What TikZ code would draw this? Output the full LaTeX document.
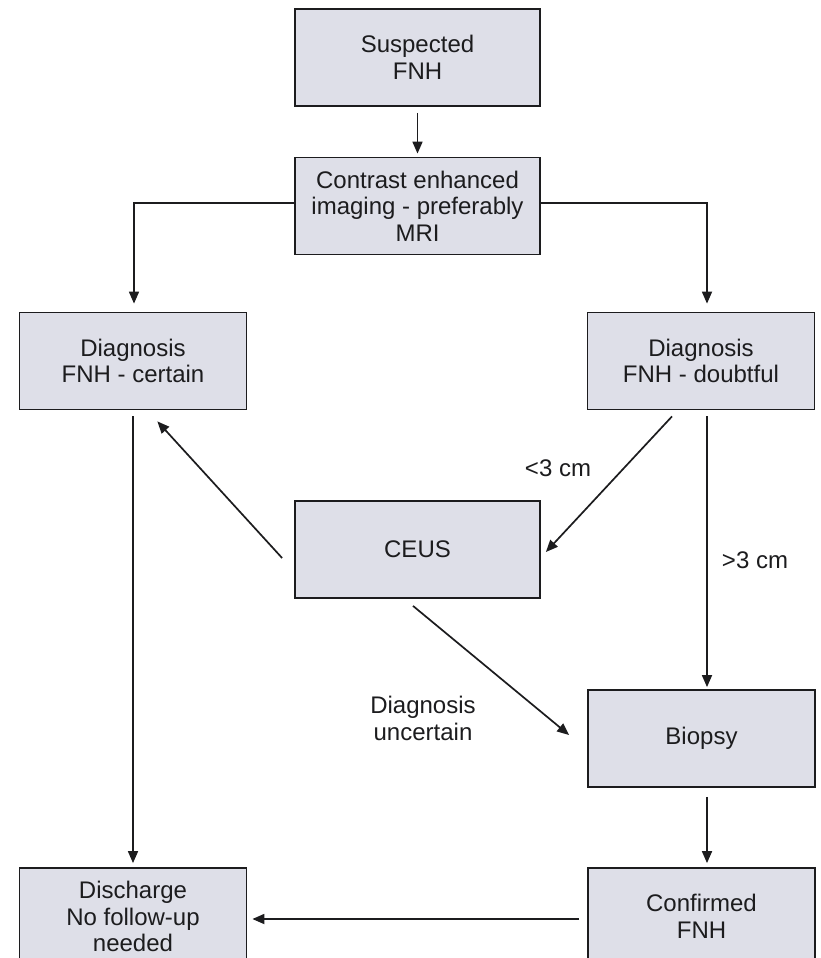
\documentclass[tikz,border=0pt]{standalone}
\usepackage{fontspec}
\setmainfont{Liberation Sans}
\usetikzlibrary{arrows.meta,calc}
\definecolor{boxfill}{RGB}{222,223,232}
\definecolor{ink}{RGB}{28,28,30}
\begin{document}
\begin{tikzpicture}[x=1pt,y=1pt,
  box/.style={draw=ink, line width=1.8pt, fill=boxfill, rectangle, minimum height=97pt,
    align=center, inner sep=0pt, font=\fontsize{24}{26.5}\selectfont, text=ink},
  wide/.style={box, minimum width=245pt},
  side/.style={box, minimum width=227pt},
  conn/.style={draw=ink, line width=1.7pt, -{Triangle[length=12pt,width=10pt]}},
  lbl/.style={font=\fontsize{24}{27}\selectfont, text=ink, align=center}]
\useasboundingbox (0,0) rectangle (820,-958);
\clip (0,0) rectangle (820,-958);
\fill[white] (0,0) rectangle (820,-958);

\node[wide] (S) at (417.5,-57.5) {Suspected\\FNH};
\node[wide] (C) at (417.5,-206) {Contrast enhanced\\imaging - preferably\\MRI};
\node[side] (DC) at (133,-361) {Diagnosis\\FNH - certain};
\node[side] (DD) at (701,-361) {Diagnosis\\FNH - doubtful};
\node[wide] (CE) at (417.5,-549.5) {CEUS};
\node[side] (B) at (701.5,-738.5) {Biopsy};
\node[side] (DIS) at (133,-916.5) {Discharge\\No follow-up\\needed};
\node[side] (CF) at (701.5,-916.5) {Confirmed\\FNH};

% connectors
\draw[conn] ([yshift=-6pt]S.south) -- ([yshift=3pt]C.north);
\draw[conn] ([yshift=3pt]C.west) -| ([xshift=1pt,yshift=8pt]DC.north);
\draw[conn] ([yshift=3pt]C.east) -| ([xshift=6pt,yshift=8pt]DD.north);
\draw[conn] ($(DD.south)+(-29pt,-6pt)$) -- ($(CE.east)+(5pt,-2.5pt)$);
\draw[conn] ([xshift=6pt,yshift=-6pt]DD.south) -- ([xshift=5.5pt,yshift=2pt]B.north);
\draw[conn] ($(CE.west)+(-12pt,-8.5pt)$) -- ($(DC.south east)+(-90pt,-11pt)$);
\draw[conn] ($(CE.south)+(-4.5pt,-7pt)$) -- ($(B.west)+(-18pt,3.5pt)$);
\draw[conn] ([yshift=-6pt]DC.south) -- ([yshift=4pt]DIS.north);
\draw[conn] ([xshift=5.5pt,yshift=-9pt]B.south) -- ([xshift=5.5pt,yshift=4pt]CF.north);
\draw[conn] ([xshift=-8pt,yshift=-2.5pt]CF.west) -- ([xshift=5pt,yshift=-2.5pt]DIS.east);

% labels
\node[lbl] (l1) at (558,-468) {<3 cm};
\node[lbl] (l2) at (755,-560) {>3 cm};
\node[lbl] (l3) at (423,-718) {Diagnosis\\uncertain};
\end{tikzpicture}
\end{document}
